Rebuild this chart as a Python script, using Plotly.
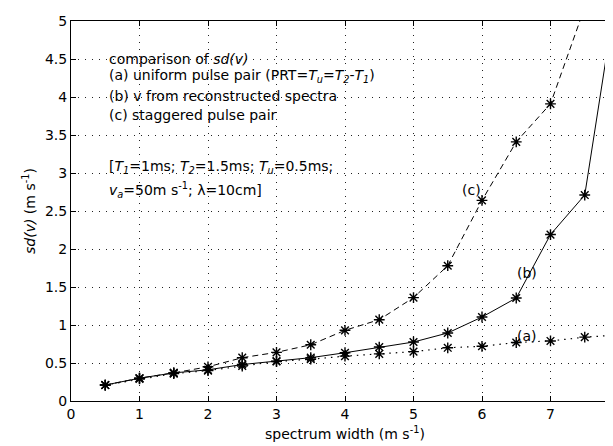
import plotly.graph_objects as go

x = [0.5, 1, 1.5, 2, 2.5, 3, 3.5, 4, 4.5, 5, 5.5, 6, 6.5, 7, 7.5, 8]
sd_a = [0.21, 0.29, 0.36, 0.40, 0.46, 0.52, 0.55, 0.59, 0.62, 0.65, 0.70, 0.72, 0.77, 0.79, 0.84, 0.87]
sd_b = [0.21, 0.30, 0.37, 0.41, 0.48, 0.525, 0.57, 0.635, 0.71, 0.776, 0.895, 1.105, 1.355, 2.19, 2.71, 5.6]
x_c = [0.5, 1, 1.5, 2, 2.5, 3, 3.5, 4, 4.5, 5, 5.5, 6, 6.5, 7, 7.5]
sd_c = [0.21, 0.30, 0.37, 0.45, 0.57, 0.64, 0.74, 0.93, 1.07, 1.36, 1.78, 2.64, 3.41, 3.91, 5.18]

xticks = [0, 1, 2, 3, 4, 5, 6, 7, 8]
yticks = [0, 0.5, 1, 1.5, 2, 2.5, 3, 3.5, 4, 4.5, 5]
ytick_text = ["0", "0.5", "1", "1.5", "2", "2.5", "3", "3.5", "4", "4.5", "5"]

FONT = "DejaVu Sans, Liberation Sans, Arial, sans-serif"
FS = 14

fig = go.Figure()
marker = dict(symbol="asterisk-open", size=9, color="black", line=dict(width=1.4, color="black"))
fig.add_trace(go.Scatter(x=x, y=sd_a, mode="lines+markers",
                         line=dict(color="black", width=1.2, dash="1.5px,5px"), marker=marker))
fig.add_trace(go.Scatter(x=x, y=sd_b, mode="lines+markers",
                         line=dict(color="black", width=1), marker=marker))
fig.add_trace(go.Scatter(x=x_c, y=sd_c, mode="lines+markers",
                         line=dict(color="black", width=1, dash="6px,4px"), marker=marker))

lines = [
    ("comparison of <i>sd(v)</i>", 4.50),
    ("(a) uniform pulse pair (PRT=<i>T</i><sub><i>u</i></sub>=<i>T</i><sub><i>2</i></sub>-<i>T</i><sub><i>1</i></sub>)", 4.28),
    ("(b) v from reconstructed spectra", 4.01),
    ("(c) staggered pulse pair", 3.76),
    ("[<i>T</i><sub><i>1</i></sub>=1ms; <i>T</i><sub><i>2</i></sub>=1.5ms; <i>T</i><sub><i>u</i></sub>=0.5ms;", 3.08),
    ("<i>v</i><sub><i>a</i></sub>=50m s<sup>-1</sup>; λ=10cm]", 2.78),
]
for t, yy in lines:
    fig.add_annotation(x=0.52, y=yy, xref="x", yref="y", text=t, showarrow=False,
                       xanchor="left", yanchor="middle", font=dict(size=FS, color="black", family=FONT))

for t, xx, yy in [("(c)", 5.85, 2.77), ("(b)", 6.66, 1.68), ("(a)", 6.66, 0.86)]:
    fig.add_annotation(x=xx, y=yy, xref="x", yref="y", text=t, showarrow=False,
                       xanchor="center", yanchor="middle", font=dict(size=FS, color="black", family=FONT))

axis_common = dict(showline=True, linecolor="black", linewidth=1, mirror="ticks",
                   ticks="inside", ticklen=5, tickcolor="black",
                   showgrid=True, gridcolor="#222222", griddash="1px,6px", gridwidth=1,
                   zeroline=False, automargin=False,
                   tickfont=dict(size=FS, color="black", family=FONT))

fig.update_xaxes(range=[0, 8], tickvals=xticks, **axis_common,
                 title=dict(text="spectrum width (m s<sup>-1</sup>)", standoff=8,
                            font=dict(size=FS, color="black", family=FONT)))
fig.update_yaxes(range=[0, 5], tickvals=yticks, ticktext=ytick_text, **axis_common,
                 title=dict(text="<i>sd(v)</i> (m s<sup>-1</sup>)", standoff=6,
                            font=dict(size=FS, color="black", family=FONT)))

fig.update_layout(width=613, height=446, showlegend=False,
                  plot_bgcolor="white", paper_bgcolor="white",
                  margin=dict(l=63, r=2, t=13, b=53))

fig.write_html("out.html")
